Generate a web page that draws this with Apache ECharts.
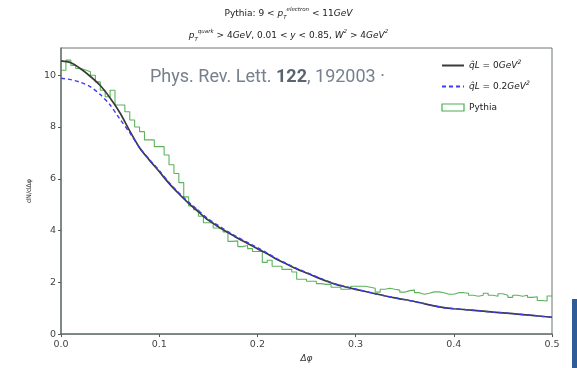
<!DOCTYPE html>
<html>
<head>
<meta charset="utf-8">
<script src="https://cdn.jsdelivr.net/npm/echarts@6/dist/echarts.min.js"></script>
<style>html,body{margin:0;padding:0;background:#fff;}#c{width:577px;height:368px;}</style>
</head>
<body>
<div id="c"></div>
<script>
// Model curves (sampled)
var curveX = [0,0.01,0.02,0.03,0.04,0.05,0.06,0.07,0.08,0.09,0.1,0.11,0.12,0.13,0.14,0.15,0.16,0.17,0.18,0.19,0.2,0.21,0.22,0.23,0.24,0.25,0.26,0.27,0.28,0.29,0.3,0.32,0.34,0.36,0.38,0.39,0.4,0.42,0.44,0.46,0.48,0.5];
var qL0 = [10.55,10.48,10.25,9.95,9.6,9.12,8.55,7.85,7.2,6.72,6.28,5.82,5.42,5.05,4.72,4.4,4.15,3.92,3.7,3.5,3.3,3.1,2.88,2.7,2.52,2.36,2.2,2.05,1.92,1.82,1.73,1.56,1.4,1.26,1.09,1.02,0.98,0.92,0.85,0.79,0.72,0.65];
var qL02 = [9.88,9.83,9.72,9.55,9.25,8.85,8.3,7.78,7.2,6.75,6.32,5.86,5.46,5.1,4.77,4.45,4.2,3.96,3.74,3.54,3.34,3.13,2.91,2.72,2.54,2.38,2.22,2.07,1.93,1.83,1.74,1.56,1.4,1.26,1.09,1.02,0.98,0.92,0.85,0.79,0.72,0.65];
// Pythia histogram: 100 bins from 0 to 0.5
var binStart = 0, binWidth = 0.005;
var pythia = [10.19,10.58,10.38,10.26,10.2,10.13,10.0,9.74,9.42,9.17,
  9.42,8.85,8.85,8.59,8.27,8.0,7.82,7.5,7.5,7.24,
  7.24,6.92,6.54,6.2,5.85,5.3,4.95,4.8,4.55,4.3,
  4.3,4.1,4.04,3.95,3.58,3.6,3.38,3.42,3.3,3.19,
  3.2,2.77,2.85,2.62,2.62,2.5,2.5,2.4,2.12,2.12,
  2.04,2.04,1.95,1.92,1.92,1.81,1.81,1.73,1.73,1.85,
  1.85,1.85,1.81,1.77,1.62,1.73,1.77,1.73,1.7,1.62,
  1.68,1.7,1.6,1.54,1.58,1.63,1.63,1.6,1.54,1.54,
  1.6,1.6,1.58,1.5,1.46,1.5,1.58,1.5,1.46,1.56,
  1.5,1.42,1.5,1.46,1.5,1.42,1.44,1.3,1.28,1.47];
var xTicks = ['0.0','0.1','0.2','0.3','0.4','0.5'];
var yTicks = ['0','2','4','6','8','10'];

var chart = echarts.init(document.getElementById('c'), null, {renderer:'canvas'});
function pairs(xs, ys){ return xs.map(function(x,i){return [x, ys[i]];}); }
var histData = pythia.map(function(v,i){ return [binStart + i*binWidth, v]; });
histData.push([binStart + pythia.length*binWidth, pythia[pythia.length-1]]);

var labelMap = {
  'q0': '{i|q\u0302L} = 0{i|GeV}{sup|2}',
  'q02': '{i|q\u0302L} = 0.2{i|GeV}{sup|2}',
  'Pythia': 'Pythia'
};
var FONT = 'DejaVu Sans';
var titleRich = {
  i: {fontFamily: FONT, fontSize: 9, fontStyle: 'italic', color: '#222', lineHeight: 14},
  sup: {fontFamily: FONT, fontSize: 5.5, fontStyle: 'italic', color: '#222', verticalAlign: 'top', lineHeight: 14},
  sub: {fontFamily: FONT, fontSize: 5.5, fontStyle: 'italic', color: '#222', verticalAlign: 'bottom', lineHeight: 14}
};

chart.setOption({
  animation: false,
  backgroundColor: '#fff',
  grid: {left: 61, right: 25, top: 48, bottom: 33, show: true, borderColor: '#6e7770', borderWidth: 1, backgroundColor: 'transparent'},
  xAxis: {
    type: 'value', min: 0, max: 0.5, interval: 0.1,
    name: '\u0394\u03c6', nameLocation: 'middle', nameGap: 18,
    nameTextStyle: {fontFamily: FONT, fontSize: 9, fontStyle: 'italic', color: '#333'},
    axisLine: {show: true, lineStyle: {color: '#6e7770', width: 1.5}},
    axisTick: {show: true, length: 3, lineStyle: {color: '#555'}},
    axisLabel: {fontFamily: FONT, fontSize: 9.5, color: '#444', margin: 5,
      formatter: function(v){ var k = Math.round(v*10); return xTicks[k] || ''; }},
    splitLine: {show: false}
  },
  yAxis: {
    type: 'value', min: 0, max: 11.05, interval: 2,
    name: 'dN/d\u0394\u03c6', nameLocation: 'middle', nameGap: 22, nameRotate: 90,
    nameTextStyle: {fontFamily: FONT, fontSize: 6.5, color: '#333'},
    axisLine: {show: true, lineStyle: {color: '#6e7770', width: 1.5}},
    axisTick: {show: true, length: 3, lineStyle: {color: '#555'}},
    axisLabel: {fontFamily: FONT, fontSize: 9.5, color: '#444', margin: 5, showMaxLabel: false,
      formatter: function(v){ var k = Math.round(v/2); return (Math.abs(v - k*2) < 1e-6) ? (yTicks[k] || '') : ''; }},
    splitLine: {show: false}
  },
  legend: {
    orient: 'vertical', left: 436, top: 54, itemWidth: 22, itemHeight: 7, itemGap: 8,
    formatter: function(n){ return labelMap[n]; },
    textStyle: {fontFamily: FONT, fontSize: 9, color: '#222', lineHeight: 13,
      rich: {
        i: {fontFamily: FONT, fontSize: 9, fontStyle: 'italic', color: '#222', lineHeight: 13},
        sup: {fontFamily: FONT, fontSize: 6, fontStyle: 'italic', color: '#222', verticalAlign: 'top', lineHeight: 13}
      }},
    data: [
      {name: 'q0', itemStyle: {opacity: 0}},
      {name: 'q02', itemStyle: {opacity: 0}},
      {name: 'Pythia', icon: 'rect', itemStyle: {color: 'rgba(0,0,0,0)', borderColor: '#4cae4c', borderWidth: 1.2}, lineStyle: {width: 0, opacity: 0}}
    ]
  },
  series: [
    {name: 'Pythia', type: 'line', step: 'end', data: histData, symbol: 'none', z: 2,
      lineStyle: {color: '#3fa63f', width: 1.1, opacity: 0.85}, itemStyle: {color: '#4cae4c'}},
    {name: 'q0', type: 'line', data: pairs(curveX, qL0), symbol: 'none', smooth: 0.3, z: 3,
      lineStyle: {color: '#3a3a3a', width: 1.7}, itemStyle: {color: '#3a3a3a'}},
    {name: 'q02', type: 'line', data: pairs(curveX, qL02), symbol: 'none', smooth: 0.3, z: 4,
      lineStyle: {color: '#3c3cf5', width: 1.4, type: [4, 3]}, itemStyle: {color: '#3c3cf5'}}
  ],
  graphic: [
    {type: 'text', left: 'center', top: 7, style: {text: 'Pythia: 9 < {i|p}{sub|T}{sup|electron} < 11{i|GeV}', rich: titleRich, font: '9px "DejaVu Sans"', fill: '#222'}},
    {type: 'text', top: 29, left: 'center', style: {text: '{i|p}{sub|T}{sup|quark} > 4{i|GeV}, 0.01 < {i|y} < 0.85, {i|W}{sup|2} > 4{i|GeV}{sup|2}', rich: titleRich, font: '9px "DejaVu Sans"', fill: '#222'}},
    {type: 'text', left: 150, top: 68, z: 10, style: {text: 'Phys. Rev. Lett. {b|122}, 192003 \u00b7', font: '18px Roboto', fill: '#76818d',
      rich: {b: {fontFamily: 'Roboto', fontSize: 18, fontWeight: 'bold', fill: '#5a6470', color: '#5a6470'}}}},
    {type: 'rect', shape: {x: 572, y: 299, width: 5, height: 69}, style: {fill: '#2d5c97'}}
  ]
});
</script>
</body>
</html>
